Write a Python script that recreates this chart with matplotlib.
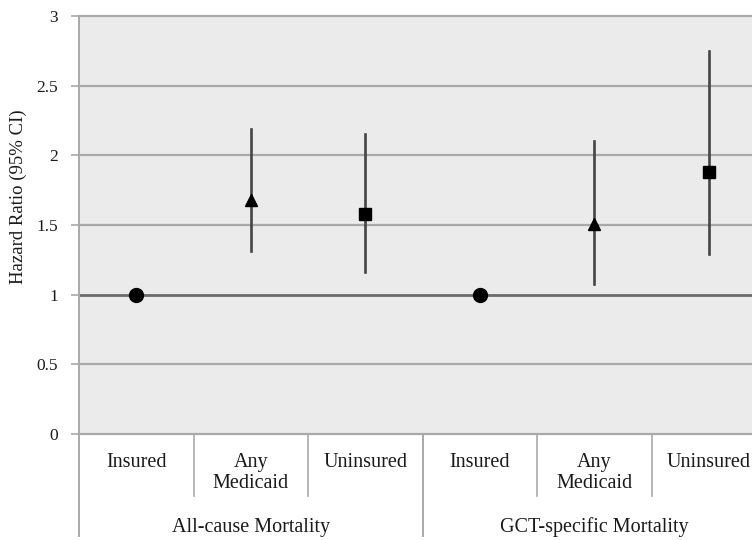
import matplotlib.pyplot as plt

plt.rcParams['font.family'] = ['Liberation Serif', 'DejaVu Serif']

# data
groups = ['All-cause Mortality', 'GCT-specific Mortality']
categories = ['Insured', 'Any\nMedicaid', 'Uninsured']
hr = [[1.0, 1.68, 1.58], [1.0, 1.51, 1.88]]
ci_low = [[1.0, 1.31, 1.16], [1.0, 1.08, 1.29]]
ci_high = [[1.0, 2.19, 2.15], [1.0, 2.10, 2.75]]
markers = ['o', '^', 's']
yticks = [0, 0.5, 1, 1.5, 2, 2.5, 3]
ytick_labels = ['0', '0.5', '1', '1.5', '2', '2.5', '3']

W, H = 752, 540
fig = plt.figure(figsize=(W / 100, H / 100), dpi=100)
left, right, top, bottom = 79, 766, 16, 434
ax = fig.add_axes([left / W, (H - bottom) / H, (right - left) / W, (bottom - top) / H])
ax.set_facecolor('#ebebeb')
ax.set_xlim(0, 6)
ax.set_ylim(0, 3)

txt = '#1a1a1a'
grid = '#a9a9a9'

# gridlines, darker reference line at 1
for v in yticks:
    if v == 1:
        ax.axhline(v, color='#6a6a6a', lw=2.0, zorder=1, clip_on=False)
    else:
        ax.axhline(v, color=grid, lw=1.6, zorder=1, clip_on=False)

for g in range(len(groups)):
    for i in range(len(categories)):
        x = g * 3 + i + 0.5
        if ci_high[g][i] > ci_low[g][i]:
            ax.plot([x, x], [ci_low[g][i], ci_high[g][i]], color='#454545', lw=1.9, zorder=2)
        ms = 10 if markers[i] == 'o' else 9
        ax.plot(x, hr[g][i], marker=markers[i], color='black', ms=ms, zorder=3, ls='none')

for s in ['top', 'right', 'bottom']:
    ax.spines[s].set_visible(False)
ax.spines['left'].set_color(grid)
ax.spines['left'].set_linewidth(1.4)

ax.set_xticks([])
ax.set_yticks(yticks)
ax.set_yticklabels(ytick_labels, fontsize=12.5, color=txt)
ax.tick_params(axis='y', length=6, width=1.2, color=grid, pad=9)
ax.set_ylabel('Hazard Ratio (95% CI)', fontsize=13.5, color=txt)
ax.yaxis.set_label_coords(-0.076, (bottom - 197) / (bottom - top))

# category axis below the plot
trans = ax.get_xaxis_transform()
ph = bottom - top
sub_end = -(496 - bottom) / ph
outer_end = -(536 - bottom) / ph
ax.plot([0, 0], [0, outer_end], transform=trans, color=grid, lw=1.4, clip_on=False)
for g in range(len(groups)):
    for i in range(len(categories)):
        x = g * 3 + i
        if i > 0:
            ax.plot([x, x], [0, sub_end], transform=trans, color=grid, lw=1.2, clip_on=False)
        ax.text(x + 0.5, -(453 - bottom) / ph, categories[i], transform=trans,
                ha='center', va='top', fontsize=14.5, linespacing=1.15, color=txt)
    if g > 0:
        ax.plot([g * 3, g * 3], [0, outer_end], transform=trans, color=grid, lw=1.4, clip_on=False)
    ax.text(g * 3 + 1.5, -(532 - bottom) / ph, groups[g], transform=trans,
            ha='center', va='baseline', fontsize=14.5, color=txt)

fig.savefig('out.png', dpi=100)
